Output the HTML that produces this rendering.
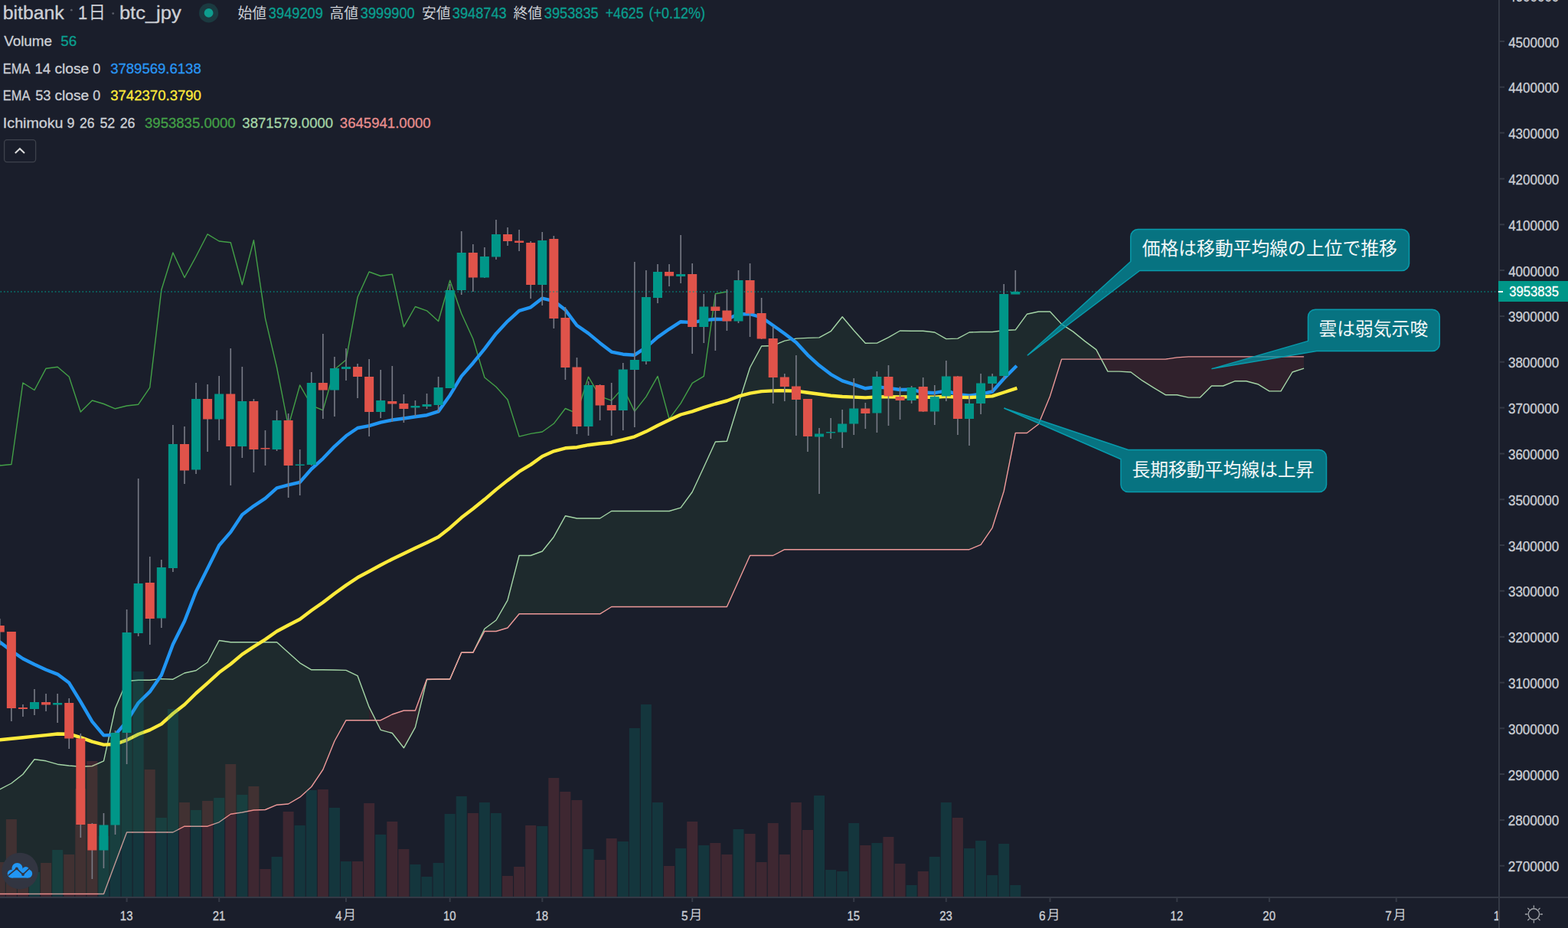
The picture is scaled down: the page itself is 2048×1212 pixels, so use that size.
<!DOCTYPE html>
<html lang="ja">
<head>
<meta charset="utf-8">
<title>bitbank btc_jpy 1D chart</title>
<style>
html,body{margin:0;padding:0;background:#1a1e2b;}
#root{position:relative;width:2048px;height:1212px;overflow:hidden;background:#1a1e2b;font-family:"Liberation Sans",sans-serif;}
#root svg{position:absolute;left:0;top:0;}
.c{position:absolute;white-space:nowrap;line-height:1;color:transparent;font-family:"Liberation Sans",sans-serif;}
</style>
</head>
<body>
<div id="root">
<svg width="2048" height="1212" viewBox="0 0 2048 1212">
<defs><clipPath id="clipx"><rect x="0" y="1173" width="1957" height="39"/></clipPath></defs>
<path d="M-0.2 1030.8L14.9 1023.0L14.9 1167.5L-0.2 1167.5ZM14.9 1023.0L29.9 1011.2L29.9 1167.5L14.9 1167.5ZM29.9 1011.2L45.0 991.8L45.0 1167.5L29.9 1167.5ZM45.0 991.8L60.1 993.8L60.1 1167.5L45.0 1167.5ZM60.1 993.8L75.2 998.2L75.2 1167.5L60.1 1167.5ZM75.2 998.2L90.2 1000.0L90.2 1167.5L75.2 1167.5ZM90.2 1000.0L105.3 1001.2L105.3 1167.5L90.2 1167.5ZM105.3 1001.2L120.4 1000.5L120.4 1167.5L105.3 1167.5ZM120.4 1000.5L135.5 993.8L135.5 1167.5L120.4 1167.5ZM135.5 993.8L150.5 925.0L150.5 1127.2L135.5 1167.5ZM150.5 925.0L165.6 889.5L165.6 1087.0L150.5 1127.2ZM165.6 889.5L180.7 888.2L180.7 1087.0L165.6 1087.0ZM180.7 888.2L195.7 888.2L195.7 1087.0L180.7 1087.0ZM195.7 888.2L210.8 886.6L210.8 1087.0L195.7 1087.0ZM210.8 886.6L225.9 887.2L225.9 1087.0L210.8 1087.0ZM225.9 887.2L241.0 879.0L241.0 1079.2L225.9 1087.0ZM241.0 879.0L256.0 875.7L256.0 1079.2L241.0 1079.2ZM256.0 875.7L271.1 865.0L271.1 1079.2L256.0 1079.2ZM271.1 865.0L286.2 836.5L286.2 1073.8L271.1 1079.2ZM286.2 836.5L301.3 838.8L301.3 1063.2L286.2 1073.8ZM301.3 838.8L316.3 838.8L316.3 1061.0L301.3 1063.2ZM316.3 838.8L331.4 838.8L331.4 1058.0L316.3 1061.0ZM331.4 838.8L346.5 838.8L346.5 1057.5L331.4 1058.0ZM346.5 838.8L361.6 838.8L361.6 1051.2L346.5 1057.5ZM361.6 838.8L376.6 852.2L376.6 1050.0L361.6 1051.2ZM376.6 852.2L391.7 865.8L391.7 1041.2L376.6 1050.0ZM391.7 865.8L406.8 874.8L406.8 1027.5L391.7 1041.2ZM406.8 874.8L421.9 874.8L421.9 1005.0L406.8 1027.5ZM421.9 874.8L436.9 875.0L436.9 968.0L421.9 1005.0ZM436.9 875.0L452.0 875.4L452.0 940.7L436.9 968.0ZM452.0 875.4L467.1 882.7L467.1 940.7L452.0 940.7ZM467.1 882.7L482.1 923.4L482.1 940.7L467.1 940.7ZM557.5 887.6L572.6 887.0L572.6 887.0L557.5 887.0ZM617.8 852.3L632.9 821.2L632.9 824.5L617.8 852.3ZM632.9 821.2L648.0 810.0L648.0 824.5L632.9 824.5ZM648.0 810.0L663.0 783.8L663.0 820.0L648.0 824.5ZM663.0 783.8L678.1 725.5L678.1 801.8L663.0 820.0ZM678.1 725.5L693.2 725.5L693.2 801.8L678.1 801.8ZM693.2 725.5L708.3 720.0L708.3 801.8L693.2 801.8ZM708.3 720.0L723.3 701.2L723.3 801.8L708.3 801.8ZM723.3 701.2L738.4 673.8L738.4 801.8L723.3 801.8ZM738.4 673.8L753.5 677.0L753.5 801.8L738.4 801.8ZM753.5 677.0L768.5 677.0L768.5 801.8L753.5 801.8ZM768.5 677.0L783.6 677.0L783.6 801.8L768.5 801.8ZM783.6 677.0L798.7 667.5L798.7 792.5L783.6 801.8ZM798.7 667.5L813.8 667.5L813.8 792.5L798.7 792.5ZM813.8 667.5L828.8 667.5L828.8 792.5L813.8 792.5ZM828.8 667.5L843.9 667.5L843.9 792.5L828.8 792.5ZM843.9 667.5L859.0 667.5L859.0 792.5L843.9 792.5ZM859.0 667.5L874.1 667.5L874.1 792.5L859.0 792.5ZM874.1 667.5L889.1 663.2L889.1 792.5L874.1 792.5ZM889.1 663.2L904.2 642.5L904.2 792.5L889.1 792.5ZM904.2 642.5L919.3 610.0L919.3 792.5L904.2 792.5ZM919.3 610.0L934.4 577.0L934.4 792.5L919.3 792.5ZM934.4 577.0L949.4 576.2L949.4 792.5L934.4 792.5ZM949.4 576.2L964.5 527.5L964.5 759.0L949.4 792.5ZM964.5 527.5L979.6 480.0L979.6 725.5L964.5 759.0ZM979.6 480.0L994.7 452.0L994.7 725.5L979.6 725.5ZM994.7 452.0L1009.7 451.5L1009.7 725.5L994.7 725.5ZM1009.7 451.5L1024.8 445.1L1024.8 717.7L1009.7 725.5ZM1024.8 445.1L1039.9 442.1L1039.9 717.7L1024.8 717.7ZM1039.9 442.1L1054.9 441.4L1054.9 717.7L1039.9 717.7ZM1054.9 441.4L1070.0 440.9L1070.0 717.7L1054.9 717.7ZM1070.0 440.9L1085.1 432.7L1085.1 717.7L1070.0 717.7ZM1085.1 432.7L1100.2 413.7L1100.2 717.7L1085.1 717.7ZM1100.2 413.7L1115.2 431.5L1115.2 717.7L1100.2 717.7ZM1115.2 431.5L1130.3 448.3L1130.3 717.7L1115.2 717.7ZM1130.3 448.3L1145.4 448.1L1145.4 717.7L1130.3 717.7ZM1145.4 448.1L1160.5 440.6L1160.5 717.7L1145.4 717.7ZM1160.5 440.6L1175.5 432.0L1175.5 717.7L1160.5 717.7ZM1175.5 432.0L1190.6 432.2L1190.6 717.7L1175.5 717.7ZM1190.6 432.2L1205.7 432.2L1205.7 717.7L1190.6 717.7ZM1205.7 432.2L1220.8 434.0L1220.8 717.7L1205.7 717.7ZM1220.8 434.0L1235.8 442.6L1235.8 717.7L1220.8 717.7ZM1235.8 442.6L1250.9 442.1L1250.9 717.7L1235.8 717.7ZM1250.9 442.1L1266.0 434.0L1266.0 717.7L1250.9 717.7ZM1266.0 434.0L1281.1 433.5L1281.1 711.3L1266.0 717.7ZM1281.1 433.5L1296.1 433.5L1296.1 689.3L1281.1 711.3ZM1296.1 433.5L1311.2 431.5L1311.2 641.5L1296.1 689.3ZM1311.2 431.5L1326.3 430.8L1326.3 565.5L1311.2 641.5ZM1326.3 430.8L1341.3 410.3L1341.3 565.5L1326.3 565.5ZM1341.3 410.3L1356.4 407.0L1356.4 554.0L1341.3 565.5ZM1356.4 407.0L1371.5 407.0L1371.5 517.4L1356.4 554.0ZM1371.5 407.0L1386.6 423.4L1386.6 469.1L1371.5 517.4ZM1386.6 423.4L1401.6 433.1L1401.6 469.1L1386.6 469.1ZM1401.6 433.1L1416.7 445.4L1416.7 469.1L1401.6 469.1ZM1416.7 445.4L1431.8 456.6L1431.8 469.1L1416.7 469.1Z" fill="#43a047" fill-opacity="0.1" shape-rendering="crispEdges"/>
<path d="M482.1 923.4L497.2 953.3L497.2 940.7L482.1 940.7ZM497.2 953.3L512.3 957.5L512.3 933.0L497.2 940.7ZM512.3 957.5L527.4 976.8L527.4 928.0L512.3 933.0ZM527.4 976.8L542.4 949.8L542.4 928.0L527.4 928.0ZM542.4 949.8L557.5 887.6L557.5 887.0L542.4 928.0ZM1431.8 456.6L1446.9 485.1L1446.9 469.1L1431.8 469.1ZM1446.9 485.1L1461.9 485.1L1461.9 469.1L1446.9 469.1ZM1461.9 485.1L1477.0 486.0L1477.0 469.1L1461.9 469.1ZM1477.0 486.0L1492.1 497.2L1492.1 469.1L1477.0 469.1ZM1492.1 497.2L1507.2 506.6L1507.2 469.1L1492.1 469.1ZM1507.2 506.6L1522.2 515.7L1522.2 469.1L1507.2 469.1ZM1522.2 515.7L1537.3 515.7L1537.3 466.9L1522.2 469.1ZM1537.3 515.7L1552.4 519.1L1552.4 465.9L1537.3 466.9ZM1552.4 519.1L1567.5 519.1L1567.5 465.9L1552.4 465.9ZM1567.5 519.1L1582.5 504.0L1582.5 465.9L1567.5 465.9ZM1582.5 504.0L1597.6 504.0L1597.6 465.9L1582.5 465.9ZM1597.6 504.0L1612.7 497.8L1612.7 465.9L1597.6 465.9ZM1612.7 497.8L1627.7 497.8L1627.7 465.9L1612.7 465.9ZM1627.7 497.8L1642.8 501.7L1642.8 465.9L1627.7 465.9ZM1642.8 501.7L1657.9 510.9L1657.9 465.9L1642.8 465.9ZM1657.9 510.9L1673.0 510.9L1673.0 465.9L1657.9 465.9ZM1673.0 510.9L1688.0 486.0L1688.0 465.9L1673.0 465.9ZM1688.0 486.0L1703.1 481.2L1703.1 465.9L1688.0 465.9Z" fill="#f44336" fill-opacity="0.1" shape-rendering="crispEdges"/>
<polyline points="-0.2,1030.8 14.9,1023.0 29.9,1011.2 45.0,991.8 60.1,993.8 75.2,998.2 90.2,1000.0 105.3,1001.2 120.4,1000.5 135.5,993.8 150.5,925.0 165.6,889.5 180.7,888.2 195.7,888.2 210.8,886.6 225.9,887.2 241.0,879.0 256.0,875.7 271.1,865.0 286.2,836.5 301.3,838.8 316.3,838.8 331.4,838.8 346.5,838.8 361.6,838.8 376.6,852.2 391.7,865.8 406.8,874.8 421.9,874.8 436.9,875.0 452.0,875.4 467.1,882.7 482.1,923.4 497.2,953.3 512.3,957.5 527.4,976.8 542.4,949.8 557.5,887.6 572.6,887.0 587.7,887.0 602.7,852.3 617.8,852.3 632.9,821.2 648.0,810.0 663.0,783.8 678.1,725.5 693.2,725.5 708.3,720.0 723.3,701.2 738.4,673.8 753.5,677.0 768.5,677.0 783.6,677.0 798.7,667.5 813.8,667.5 828.8,667.5 843.9,667.5 859.0,667.5 874.1,667.5 889.1,663.2 904.2,642.5 919.3,610.0 934.4,577.0 949.4,576.2 964.5,527.5 979.6,480.0 994.7,452.0 1009.7,451.5 1024.8,445.1 1039.9,442.1 1054.9,441.4 1070.0,440.9 1085.1,432.7 1100.2,413.7 1115.2,431.5 1130.3,448.3 1145.4,448.1 1160.5,440.6 1175.5,432.0 1190.6,432.2 1205.7,432.2 1220.8,434.0 1235.8,442.6 1250.9,442.1 1266.0,434.0 1281.1,433.5 1296.1,433.5 1311.2,431.5 1326.3,430.8 1341.3,410.3 1356.4,407.0 1371.5,407.0 1386.6,423.4 1401.6,433.1 1416.7,445.4 1431.8,456.6 1446.9,485.1 1461.9,485.1 1477.0,486.0 1492.1,497.2 1507.2,506.6 1522.2,515.7 1537.3,515.7 1552.4,519.1 1567.5,519.1 1582.5,504.0 1597.6,504.0 1612.7,497.8 1627.7,497.8 1642.8,501.7 1657.9,510.9 1673.0,510.9 1688.0,486.0 1703.1,481.2" fill="none" stroke="#a5d6a7" stroke-width="1.4" stroke-linejoin="round"/>
<polyline points="-0.2,1167.5 14.9,1167.5 29.9,1167.5 45.0,1167.5 60.1,1167.5 75.2,1167.5 90.2,1167.5 105.3,1167.5 120.4,1167.5 135.5,1167.5 150.5,1127.2 165.6,1087.0 180.7,1087.0 195.7,1087.0 210.8,1087.0 225.9,1087.0 241.0,1079.2 256.0,1079.2 271.1,1079.2 286.2,1073.8 301.3,1063.2 316.3,1061.0 331.4,1058.0 346.5,1057.5 361.6,1051.2 376.6,1050.0 391.7,1041.2 406.8,1027.5 421.9,1005.0 436.9,968.0 452.0,940.7 467.1,940.7 482.1,940.7 497.2,940.7 512.3,933.0 527.4,928.0 542.4,928.0 557.5,887.0 572.6,887.0 587.7,887.0 602.7,852.3 617.8,852.3 632.9,824.5 648.0,824.5 663.0,820.0 678.1,801.8 693.2,801.8 708.3,801.8 723.3,801.8 738.4,801.8 753.5,801.8 768.5,801.8 783.6,801.8 798.7,792.5 813.8,792.5 828.8,792.5 843.9,792.5 859.0,792.5 874.1,792.5 889.1,792.5 904.2,792.5 919.3,792.5 934.4,792.5 949.4,792.5 964.5,759.0 979.6,725.5 994.7,725.5 1009.7,725.5 1024.8,717.7 1039.9,717.7 1054.9,717.7 1070.0,717.7 1085.1,717.7 1100.2,717.7 1115.2,717.7 1130.3,717.7 1145.4,717.7 1160.5,717.7 1175.5,717.7 1190.6,717.7 1205.7,717.7 1220.8,717.7 1235.8,717.7 1250.9,717.7 1266.0,717.7 1281.1,711.3 1296.1,689.3 1311.2,641.5 1326.3,565.5 1341.3,565.5 1356.4,554.0 1371.5,517.4 1386.6,469.1 1401.6,469.1 1416.7,469.1 1431.8,469.1 1446.9,469.1 1461.9,469.1 1477.0,469.1 1492.1,469.1 1507.2,469.1 1522.2,469.1 1537.3,466.9 1552.4,465.9 1567.5,465.9 1582.5,465.9 1597.6,465.9 1612.7,465.9 1627.7,465.9 1642.8,465.9 1657.9,465.9 1673.0,465.9 1688.0,465.9 1703.1,465.9" fill="none" stroke="#ef9a9a" stroke-width="1.4" stroke-linejoin="round"/>
<polyline points="-15.3,549.2 -0.2,608.0 14.9,606.5 29.9,500.0 45.0,509.5 60.1,481.2 75.2,479.2 90.2,492.0 105.3,538.0 120.4,523.0 135.5,527.5 150.5,533.8 165.6,530.0 180.7,528.2 195.7,506.2 210.8,378.8 225.9,330.0 241.0,362.5 256.0,335.0 271.1,305.8 286.2,315.0 301.3,316.8 316.3,371.8 331.4,313.8 346.5,415.8 361.6,480.0 376.6,556.8 391.7,503.0 406.8,529.5 421.9,535.8 436.9,482.5 452.0,470.0 467.1,388.0 482.1,355.0 497.2,360.5 512.3,358.2 527.4,426.8 542.4,400.5 557.5,405.8 572.6,419.5 587.7,366.2 602.7,409.5 617.8,442.5 632.9,493.0 648.0,505.2 663.0,522.0 678.1,570.1 693.2,566.4 708.3,564.0 723.3,553.3 738.4,533.5 753.5,539.9 768.5,492.1 783.6,517.6 798.7,523.1 813.8,506.2 828.8,537.4 843.9,518.1 859.0,491.4 874.1,547.1 889.1,526.8 904.2,500.3 919.3,491.4 934.4,383.8 949.4,381.0" fill="none" stroke="#43a047" stroke-width="1.4" stroke-linejoin="round"/>
<polyline points="-0.2,838.5 14.9,850.0 29.9,860.2 45.0,867.8 60.1,874.8 75.2,880.6 90.2,891.8 105.3,916.5 120.4,942.3 135.5,960.4 150.5,959.9 165.6,942.1 180.7,918.0 195.7,903.4 210.8,881.8 225.9,841.5 241.0,811.3 256.0,772.6 271.1,742.6 286.2,712.2 301.3,694.9 316.3,672.2 331.4,660.8 346.5,650.9 361.6,637.3 376.6,633.4 391.7,629.8 406.8,612.5 421.9,598.8 436.9,583.1 452.0,569.3 467.1,559.0 482.1,556.2 497.2,551.7 512.3,548.5 527.4,546.5 542.4,544.3 557.5,542.2 572.6,537.4 587.7,516.2 602.7,491.4 617.8,474.2 632.9,455.7 648.0,435.7 663.0,419.6 678.1,405.9 693.2,401.3 708.3,389.6 723.3,393.1 738.4,404.7 753.5,425.0 768.5,435.4 783.6,447.9 798.7,459.6 813.8,462.7 828.8,463.7 843.9,453.6 859.0,440.4 874.1,429.8 889.1,420.2 904.2,421.1 919.3,418.4 934.4,416.7 949.4,417.1 964.5,410.3 979.6,410.2 994.7,414.5 1009.7,425.0 1024.8,435.7 1039.9,447.2 1054.9,463.6 1070.0,477.3 1085.1,488.8 1100.2,497.4 1115.2,502.2 1130.3,507.3 1145.4,505.2 1160.5,506.9 1175.5,509.0 1190.6,508.7 1205.7,512.5 1220.8,513.2 1235.8,510.3 1250.9,515.2 1266.0,516.8 1281.1,514.6 1296.1,511.5 1311.2,494.5 1326.3,479.3" fill="none" stroke="#2196f3" stroke-width="4.4" stroke-linejoin="round" stroke-linecap="square"/>
<polyline points="-0.2,966.2 14.9,964.7 29.9,963.3 45.0,961.6 60.1,960.1 75.2,958.5 90.2,958.7 105.3,963.1 120.4,968.6 135.5,972.6 150.5,972.0 165.6,966.6 180.7,959.0 195.7,953.4 210.8,945.6 225.9,932.0 241.0,920.3 256.0,905.5 271.1,892.2 286.2,878.3 301.3,867.3 316.3,854.6 331.4,844.7 346.5,835.1 361.6,824.5 376.6,816.5 391.7,808.7 406.8,797.3 421.9,786.7 436.9,775.3 452.0,764.4 467.1,754.3 482.1,746.3 497.2,738.0 512.3,730.2 527.4,722.9 542.4,715.8 557.5,708.8 572.6,701.3 587.7,689.4 602.7,676.1 617.8,664.5 632.9,652.3 648.0,639.4 663.0,627.4 678.1,615.9 693.2,606.9 708.3,596.0 723.3,589.3 738.4,585.3 753.5,584.2 768.5,581.2 783.6,579.3 798.7,577.7 813.8,574.2 828.8,570.3 843.9,563.6 859.0,555.8 874.1,548.6 889.1,541.5 904.2,537.3 919.3,532.2 934.4,527.5 949.4,523.5 964.5,517.7 979.6,513.7 994.7,511.1 1009.7,510.4 1024.8,510.2 1039.9,510.6 1054.9,512.8 1070.0,514.8 1085.1,516.7 1100.2,518.0 1115.2,518.6 1130.3,519.4 1145.4,518.4 1160.5,518.3 1175.5,518.5 1190.6,518.1 1205.7,518.8 1220.8,518.7 1235.8,517.7 1250.9,518.8 1266.0,519.1 1281.1,518.4 1296.1,517.4 1311.2,512.5 1326.3,507.6" fill="none" stroke="#ffeb3b" stroke-width="4.4" stroke-linejoin="round" stroke-linecap="square"/>
<path d="M38.01 1139h14V1171h-14ZM68.16 1110h14V1171h-14ZM128.45 1092h14V1171h-14ZM143.53 965h14V1171h-14ZM158.60 957h14V1171h-14ZM173.67 877h14V1171h-14ZM203.82 1068h14V1171h-14ZM218.89 926h14V1171h-14ZM249.04 1058h14V1171h-14ZM279.19 1042h14V1171h-14ZM309.34 1038h14V1171h-14ZM354.56 1119h14V1171h-14ZM384.71 1078h14V1171h-14ZM399.78 1032h14V1171h-14ZM429.93 1055h14V1171h-14ZM445.00 1125h14V1171h-14ZM490.22 1090h14V1171h-14ZM535.44 1129h14V1171h-14ZM550.52 1145h14V1171h-14ZM565.59 1127h14V1171h-14ZM580.66 1063h14V1171h-14ZM595.74 1040h14V1171h-14ZM625.88 1048h14V1171h-14ZM640.96 1062h14V1171h-14ZM701.25 1079h14V1171h-14ZM761.55 1109h14V1171h-14ZM806.77 1099h14V1171h-14ZM821.84 951h14V1171h-14ZM836.92 920h14V1171h-14ZM851.99 1048h14V1171h-14ZM882.14 1108h14V1171h-14ZM912.29 1104h14V1171h-14ZM957.51 1083h14V1171h-14ZM1063.02 1039h14V1171h-14ZM1078.10 1136h14V1171h-14ZM1093.17 1138h14V1171h-14ZM1108.24 1075h14V1171h-14ZM1138.39 1101h14V1171h-14ZM1183.61 1156h14V1171h-14ZM1213.76 1119h14V1171h-14ZM1228.83 1048h14V1171h-14ZM1258.98 1108h14V1171h-14ZM1274.05 1098h14V1171h-14ZM1289.13 1143h14V1171h-14ZM1304.20 1102h14V1171h-14ZM1319.27 1156h14V1171h-14Z" fill="#009688" fill-opacity="0.2"/>
<path d="M-7.21 1126h14V1171h-14ZM7.86 1070h14V1171h-14ZM22.94 1146h14V1171h-14ZM53.08 1127h14V1171h-14ZM83.23 1116h14V1171h-14ZM98.31 1030h14V1171h-14ZM113.38 994h14V1171h-14ZM188.75 1005h14V1171h-14ZM233.97 1048h14V1171h-14ZM264.12 1046h14V1171h-14ZM294.26 998h14V1171h-14ZM324.41 1027h14V1171h-14ZM339.48 1135h14V1171h-14ZM369.63 1060h14V1171h-14ZM414.85 1031h14V1171h-14ZM460.07 1125h14V1171h-14ZM475.15 1049h14V1171h-14ZM505.30 1073h14V1171h-14ZM520.37 1109h14V1171h-14ZM610.81 1062h14V1171h-14ZM656.03 1144h14V1171h-14ZM671.11 1132h14V1171h-14ZM686.18 1078h14V1171h-14ZM716.33 1016h14V1171h-14ZM731.40 1034h14V1171h-14ZM746.47 1045h14V1171h-14ZM776.62 1123h14V1171h-14ZM791.70 1095h14V1171h-14ZM867.06 1131h14V1171h-14ZM897.21 1073h14V1171h-14ZM927.36 1101h14V1171h-14ZM942.43 1116h14V1171h-14ZM972.58 1089h14V1171h-14ZM987.65 1126h14V1171h-14ZM1002.73 1075h14V1171h-14ZM1017.80 1116h14V1171h-14ZM1032.87 1048h14V1171h-14ZM1047.95 1084h14V1171h-14ZM1123.32 1104h14V1171h-14ZM1153.46 1093h14V1171h-14ZM1168.54 1128h14V1171h-14ZM1198.69 1138h14V1171h-14ZM1243.91 1068h14V1171h-14Z" fill="#e0534a" fill-opacity="0.185"/>
<path d="M-1.01 808h1.6V843h-1.6ZM14.06 825h1.6V942h-1.6ZM29.14 920h1.6V936h-1.6ZM44.21 900h1.6V934h-1.6ZM59.28 906h1.6V929h-1.6ZM74.36 906h1.6V944h-1.6ZM89.43 912h1.6V978h-1.6ZM104.51 958h1.6V1094h-1.6ZM119.58 1075h1.6V1148h-1.6ZM134.65 1062h1.6V1134h-1.6ZM149.73 954h1.6V1090h-1.6ZM164.8 796h1.6V998h-1.6ZM179.87 625h1.6V831h-1.6ZM194.95 727h1.6V842h-1.6ZM210.02 731h1.6V820h-1.6ZM225.09 555h1.6V747h-1.6ZM240.17 557h1.6V632h-1.6ZM255.24 500h1.6V619h-1.6ZM270.32 502h1.6V590h-1.6ZM285.39 491h1.6V575h-1.6ZM300.46 455h1.6V634h-1.6ZM315.54 479h1.6V598h-1.6ZM330.61 521h1.6V617h-1.6ZM345.68 562h1.6V608h-1.6ZM360.76 536h1.6V589h-1.6ZM375.83 540h1.6V650h-1.6ZM390.91 587h1.6V647h-1.6ZM405.98 486h1.6V608h-1.6ZM421.05 436h1.6V547h-1.6ZM436.13 466h1.6V544h-1.6ZM451.2 455h1.6V497h-1.6ZM466.27 475h1.6V520h-1.6ZM481.35 469h1.6V570h-1.6ZM496.42 483h1.6V546h-1.6ZM511.5 478h1.6V551h-1.6ZM526.57 515h1.6V552h-1.6ZM541.64 523h1.6V544h-1.6ZM556.72 514h1.6V534h-1.6ZM571.79 492h1.6V538h-1.6ZM586.86 371h1.6V507h-1.6ZM601.94 302h1.6V385h-1.6ZM617.01 319h1.6V381h-1.6ZM632.08 323h1.6V363h-1.6ZM647.16 287h1.6V339h-1.6ZM662.23 297h1.6V321h-1.6ZM677.31 300h1.6V328h-1.6ZM692.38 315h1.6V390h-1.6ZM707.45 303h1.6V399h-1.6ZM722.53 308h1.6V429h-1.6ZM737.6 401h1.6V496h-1.6ZM752.67 467h1.6V567h-1.6ZM767.75 498h1.6V569h-1.6ZM782.82 502h1.6V549h-1.6ZM797.9 500h1.6V569h-1.6ZM812.97 474h1.6V562h-1.6ZM828.04 342h1.6V558h-1.6ZM843.12 353h1.6V476h-1.6ZM858.19 345h1.6V396h-1.6ZM873.26 345h1.6V374h-1.6ZM888.34 307h1.6V370h-1.6ZM903.41 344h1.6V462h-1.6ZM918.49 384h1.6V448h-1.6ZM933.56 385h1.6V458h-1.6ZM948.63 378h1.6V432h-1.6ZM963.71 353h1.6V422h-1.6ZM978.78 344h1.6V440h-1.6ZM993.85 389h1.6V443h-1.6ZM1008.93 426h1.6V527h-1.6ZM1024.0 488h1.6V524h-1.6ZM1039.07 464h1.6V569h-1.6ZM1054.15 521h1.6V590h-1.6ZM1069.22 559h1.6V645h-1.6ZM1084.3 546h1.6V573h-1.6ZM1099.37 535h1.6V585h-1.6ZM1114.44 494h1.6V568h-1.6ZM1129.52 526h1.6V560h-1.6ZM1144.59 485h1.6V565h-1.6ZM1159.66 477h1.6V556h-1.6ZM1174.74 505h1.6V548h-1.6ZM1189.81 504h1.6V527h-1.6ZM1204.89 493h1.6V538h-1.6ZM1219.96 503h1.6V555h-1.6ZM1235.03 471h1.6V524h-1.6ZM1250.11 491h1.6V568h-1.6ZM1265.18 516h1.6V582h-1.6ZM1280.25 488h1.6V541h-1.6ZM1295.33 488h1.6V512h-1.6ZM1310.4 371h1.6V495h-1.6ZM1325.47 353h1.6V384h-1.6Z" fill="#787b86"/>
<path d="M39.01 917.0h12V926.0h-12ZM69.16 918.0h12V920.5h-12ZM129.45 1077.5h12V1110.5h-12ZM144.53 957.0h12V1077.5h-12ZM159.6 826.0h12V957.0h-12ZM174.67 762.0h12V827.0h-12ZM204.82 741.0h12V807.5h-12ZM219.89 580.0h12V742.0h-12ZM250.04 521.0h12V613.5h-12ZM280.19 514.5h12V547.5h-12ZM310.34 524.0h12V583.0h-12ZM355.56 549.0h12V587.0h-12ZM385.71 606.5h12V608.0h-12ZM400.78 500.0h12V607.0h-12ZM430.93 481.0h12V509.5h-12ZM446.0 479.0h12V482.0h-12ZM491.22 523.0h12V538.0h-12ZM536.44 530.0h12V532.5h-12ZM551.52 528.0h12V531.0h-12ZM566.59 506.0h12V529.0h-12ZM581.66 379.0h12V507.0h-12ZM596.74 330.0h12V379.0h-12ZM626.88 335.0h12V362.5h-12ZM641.96 306.0h12V335.5h-12ZM702.25 314.0h12V372.0h-12ZM762.55 503.0h12V557.0h-12ZM807.77 482.5h12V536.0h-12ZM822.84 470.0h12V483.0h-12ZM837.92 388.0h12V472.0h-12ZM852.99 355.0h12V389.0h-12ZM883.14 358.0h12V361.0h-12ZM913.29 400.5h12V427.0h-12ZM958.51 366.0h12V419.5h-12ZM1064.02 566.5h12V570.5h-12ZM1079.1 564.0h12V565.4h-12ZM1094.17 553.5h12V564.5h-12ZM1109.24 533.5h12V553.5h-12ZM1139.39 492.0h12V539.5h-12ZM1184.61 506.0h12V523.0h-12ZM1214.76 518.0h12V537.5h-12ZM1229.83 491.5h12V517.5h-12ZM1259.98 527.0h12V547.0h-12ZM1275.05 500.5h12V527.0h-12ZM1290.13 491.5h12V501.0h-12ZM1305.2 384.0h12V491.0h-12ZM1320.27 381.0h12V384.5h-12Z" fill="#009688"/>
<path d="M-6.21 817.0h12V825.5h-12ZM8.86 825.0h12V925.0h-12ZM23.94 924.0h12V926.0h-12ZM54.08 917.0h12V920.5h-12ZM84.23 918.0h12V964.5h-12ZM99.31 964.5h12V1077.0h-12ZM114.38 1076.0h12V1110.5h-12ZM189.75 761.0h12V808.0h-12ZM234.97 580.0h12V614.5h-12ZM265.12 521.0h12V547.5h-12ZM295.26 514.5h12V583.0h-12ZM325.41 524.0h12V587.0h-12ZM340.48 585.0h12V586.5h-12ZM370.63 549.0h12V608.0h-12ZM415.85 500.0h12V509.5h-12ZM461.07 479.0h12V492.0h-12ZM476.15 492.0h12V538.0h-12ZM506.3 524.0h12V527.5h-12ZM521.37 527.0h12V534.0h-12ZM611.81 330.0h12V362.5h-12ZM657.03 306.0h12V315.0h-12ZM672.11 314.5h12V317.0h-12ZM687.18 317.0h12V372.0h-12ZM717.33 312.0h12V416.0h-12ZM732.4 415.0h12V480.0h-12ZM747.47 479.5h12V557.0h-12ZM777.62 503.0h12V529.5h-12ZM792.7 529.0h12V536.0h-12ZM868.06 355.0h12V360.5h-12ZM898.21 358.0h12V427.0h-12ZM928.36 400.5h12V406.0h-12ZM943.43 405.5h12V419.5h-12ZM973.58 366.0h12V409.5h-12ZM988.65 409.0h12V442.5h-12ZM1003.73 442.0h12V493.0h-12ZM1018.8 492.5h12V505.0h-12ZM1033.87 504.5h12V522.0h-12ZM1048.95 521.0h12V570.0h-12ZM1124.32 533.5h12V540.0h-12ZM1154.46 492.0h12V517.5h-12ZM1169.54 518.0h12V523.0h-12ZM1199.69 505.0h12V537.5h-12ZM1244.91 491.5h12V547.0h-12Z" fill="#e0534a"/>
<line x1="0.5" y1="381" x2="1957" y2="381" stroke="#009688" stroke-width="1.6" stroke-dasharray="1.6 2.855" opacity="0.8"/>
<rect x="1957" y="0" width="2" height="1212" fill="#343945"/>
<rect x="0" y="1171" width="2048" height="2" fill="#343945"/>
<path d="M1959 1129.8h6v2h-6ZM1959 1069.9h6v2h-6ZM1959 1010.1h6v2h-6ZM1959 950.3h6v2h-6ZM1959 890.5h6v2h-6ZM1959 830.7h6v2h-6ZM1959 770.8h6v2h-6ZM1959 711.0h6v2h-6ZM1959 651.2h6v2h-6ZM1959 591.4h6v2h-6ZM1959 531.6h6v2h-6ZM1959 471.7h6v2h-6ZM1959 411.9h6v2h-6ZM1959 352.1h6v2h-6ZM1959 292.3h6v2h-6ZM1959 232.5h6v2h-6ZM1959 172.6h6v2h-6ZM1959 112.8h6v2h-6ZM1959 53.0h6v2h-6ZM1959 -6.8h6v2h-6ZM164.6 1173h2v5h-2ZM285.2 1173h2v5h-2ZM451.0 1173h2v5h-2ZM586.7 1173h2v5h-2ZM707.3 1173h2v5h-2ZM903.2 1173h2v5h-2ZM1114.2 1173h2v5h-2ZM1234.8 1173h2v5h-2ZM1370.5 1173h2v5h-2ZM1536.3 1173h2v5h-2ZM1656.9 1173h2v5h-2ZM1822.7 1173h2v5h-2Z" fill="#343945"/>
<rect x="1957" y="367" width="91" height="27" fill="#009688"/>
<rect x="1957" y="380" width="6" height="2" fill="#fff"/>
<path d="M1486.3 299.6H1831.0A9.5 9.5 0 0 1 1840.5 309.1V344.0A9.5 9.5 0 0 1 1831.0 353.5H1488.6L1342.3 463.8L1476.8 341.5V309.1A9.5 9.5 0 0 1 1486.3 299.6Z" fill="rgba(0,151,167,0.7)" stroke="#089bac" stroke-width="1.5" stroke-linejoin="round"/>
<path d="M1718.0 404.2H1870.8A9.5 9.5 0 0 1 1880.3 413.7V449.0A9.5 9.5 0 0 1 1870.8 458.5H1719.7L1583 481.6L1708.5 445.4V413.7A9.5 9.5 0 0 1 1718.0 404.2Z" fill="rgba(0,151,167,0.7)" stroke="#089bac" stroke-width="1.5" stroke-linejoin="round"/>
<path d="M1473.6 587.5H1723.0A9.5 9.5 0 0 1 1732.5 597.1V633.0A9.5 9.5 0 0 1 1723.0 642.5H1473.5A9.5 9.5 0 0 1 1464 633.0V599.8L1311.8 533.3Z" fill="rgba(0,151,167,0.7)" stroke="#089bac" stroke-width="1.5" stroke-linejoin="round"/>
<text x="1491.7" y="333.2" font-size="23.8" fill="#f2f7f8" font-family="Liberation Sans, Noto Sans CJK JP, sans-serif" textLength="333.2" lengthAdjust="spacingAndGlyphs">価格は移動平均線の上位で推移</text>
<text x="1722.4" y="437.5" font-size="23.8" fill="#f2f7f8" font-family="Liberation Sans, Noto Sans CJK JP, sans-serif" textLength="142.8" lengthAdjust="spacingAndGlyphs">雲は弱気示唆</text>
<text x="1478.4" y="621.8" font-size="23.8" fill="#f2f7f8" font-family="Liberation Sans, Noto Sans CJK JP, sans-serif" textLength="238" lengthAdjust="spacingAndGlyphs">長期移動平均線は上昇</text>
<circle cx="26.1" cy="1137.6" r="23.8" fill="#323541"/>
<g transform="translate(26.1 1137.6)"><g fill="#2196f3"><circle cx="-3.6" cy="-3.6" r="7.1"/><circle cx="-11" cy="3.5" r="5.4"/><circle cx="10.6" cy="3.4" r="5.5"/><circle cx="7.6" cy="-0.2" r="5.3"/><rect x="-11" y="-1" width="21.6" height="9.9"/></g><path d="M-15.4 5.8L-4.3-3.3L3.900 4.400L13.800-5" fill="none" stroke="#323541" stroke-width="1.7"/><circle cx="-4.300" cy="-3.300" r="1.900" fill="#323541"/><circle cx="3.900" cy="4.400" r="1.900" fill="#323541"/></g>
<circle cx="93.3" cy="13.2" r="1.4" fill="#5a5d68"/><circle cx="147.7" cy="17.6" r="1.4" fill="#5a5d68"/>
<circle cx="272.6" cy="16.9" r="12.6" fill="#1b3a40"/><circle cx="272.6" cy="16.900" r="5.900" fill="#0e9d8e"/>
<rect x="5.6" y="182.6" width="41" height="29" rx="3.500" fill="none" stroke="#3e424c" stroke-width="1.3"/>
<path d="M19.800 200L25.900 194.200L32 200" fill="none" stroke="#dcdcdc" stroke-width="2"/>
<circle cx="2003.4" cy="1194" r="7.2" fill="none" stroke="#a0a3a8" stroke-width="1.4"/><path d="M2011.6 1194.0L2014.9 1194.0M2009.2 1199.8L2011.5 1202.1M2003.4 1202.2L2003.4 1205.5M1997.6 1199.8L1995.3 1202.1M1995.2 1194.0L1991.9 1194.0M1997.6 1188.2L1995.3 1185.9M2003.4 1185.8L2003.4 1182.5M2009.2 1188.2L2011.5 1185.9" stroke="#a0a3a8" stroke-width="1.3" fill="none"/>
<g font-family="Liberation Sans, Noto Sans CJK JP, sans-serif" fill="#cdd0d6">
<text x="115.6" y="24.2" font-size="22.5">日</text>
<text x="310.6" y="23.6" font-size="18.8">始値</text>
<text x="430.6" y="23.6" font-size="18.8">高値</text>
<text x="551.1" y="23.6" font-size="18.8">安値</text>
<text x="670.6" y="23.6" font-size="18.8">終値</text>
<text x="448.1" y="1201.4" font-size="17">月</text>
<text x="900.31" y="1201.4" font-size="17">月</text>
<text x="1367.6" y="1201.4" font-size="17">月</text>
<text x="1819.81" y="1201.4" font-size="17">月</text>
</g>
<g font-family="Liberation Sans, sans-serif" stroke-width="0.3" style="white-space:pre">
<text x="3.65" y="24.60" font-size="23.5" fill="#cdd0d6" stroke="#cdd0d6" textLength="80.11" lengthAdjust="spacingAndGlyphs">bitbank</text>
<text x="101.98" y="24.60" font-size="23.5" fill="#cdd0d6" stroke="#cdd0d6" textLength="12.15" lengthAdjust="spacingAndGlyphs">1</text>
<text x="155.91" y="24.60" font-size="23.5" fill="#cdd0d6" stroke="#cdd0d6" textLength="80.81" lengthAdjust="spacingAndGlyphs">btc_jpy</text>
<text x="350.86" y="24.20" font-size="20.4" fill="#0a9e8f" stroke="#0a9e8f" textLength="70.97" lengthAdjust="spacingAndGlyphs">3949209</text>
<text x="470.86" y="24.20" font-size="20.4" fill="#0a9e8f" stroke="#0a9e8f" textLength="70.82" lengthAdjust="spacingAndGlyphs">3999900</text>
<text x="590.86" y="24.20" font-size="20.4" fill="#0a9e8f" stroke="#0a9e8f" textLength="70.90" lengthAdjust="spacingAndGlyphs">3948743</text>
<text x="710.86" y="24.20" font-size="20.4" fill="#0a9e8f" stroke="#0a9e8f" textLength="70.90" lengthAdjust="spacingAndGlyphs">3953835</text>
<text x="790.66" y="24.20" font-size="20.4" fill="#0a9e8f" stroke="#0a9e8f" textLength="50.03" lengthAdjust="spacingAndGlyphs">+4625</text>
<text x="847.44" y="24.20" font-size="20.4" fill="#0a9e8f" stroke="#0a9e8f" textLength="73.60" lengthAdjust="spacingAndGlyphs">(+0.12%)</text>
<text x="5.13" y="60.20" font-size="19.2" fill="#cdd0d6" stroke="#cdd0d6" textLength="62.98" lengthAdjust="spacingAndGlyphs">Volume</text>
<text x="79.26" y="60.20" font-size="19.2" fill="#0a9e8f" stroke="#0a9e8f" textLength="21.03" lengthAdjust="spacingAndGlyphs">56</text>
<text x="3.86" y="95.60" font-size="19.2" fill="#cdd0d6" stroke="#cdd0d6" textLength="35.53" lengthAdjust="spacingAndGlyphs">EMA</text>
<text x="45.52" y="95.60" font-size="19.2" fill="#cdd0d6" stroke="#cdd0d6" textLength="20.64" lengthAdjust="spacingAndGlyphs">14</text>
<text x="71.45" y="95.60" font-size="19.2" fill="#cdd0d6" stroke="#cdd0d6" textLength="44.72" lengthAdjust="spacingAndGlyphs">close</text>
<text x="121.20" y="95.60" font-size="19.2" fill="#cdd0d6" stroke="#cdd0d6" textLength="9.93" lengthAdjust="spacingAndGlyphs">0</text>
<text x="3.86" y="131.20" font-size="19.2" fill="#cdd0d6" stroke="#cdd0d6" textLength="35.53" lengthAdjust="spacingAndGlyphs">EMA</text>
<text x="46.19" y="131.20" font-size="19.2" fill="#cdd0d6" stroke="#cdd0d6" textLength="20.17" lengthAdjust="spacingAndGlyphs">53</text>
<text x="71.45" y="131.20" font-size="19.2" fill="#cdd0d6" stroke="#cdd0d6" textLength="44.72" lengthAdjust="spacingAndGlyphs">close</text>
<text x="121.20" y="131.20" font-size="19.2" fill="#cdd0d6" stroke="#cdd0d6" textLength="9.93" lengthAdjust="spacingAndGlyphs">0</text>
<text x="144.15" y="95.60" font-size="19.2" fill="#2996f3" stroke="#2996f3" textLength="118.59" lengthAdjust="spacingAndGlyphs">3789569.6138</text>
<text x="144.15" y="131.20" font-size="19.2" fill="#ffeb3b" stroke="#ffeb3b" textLength="118.82" lengthAdjust="spacingAndGlyphs">3742370.3790</text>
<text x="3.83" y="167.10" font-size="19.2" fill="#cdd0d6" stroke="#cdd0d6" textLength="78.73" lengthAdjust="spacingAndGlyphs">Ichimoku</text>
<text x="87.46" y="167.10" font-size="19.2" fill="#cdd0d6" stroke="#cdd0d6" textLength="9.93" lengthAdjust="spacingAndGlyphs">9</text>
<text x="103.88" y="167.10" font-size="19.2" fill="#cdd0d6" stroke="#cdd0d6" textLength="19.56" lengthAdjust="spacingAndGlyphs">26</text>
<text x="130.40" y="167.10" font-size="19.2" fill="#cdd0d6" stroke="#cdd0d6" textLength="19.89" lengthAdjust="spacingAndGlyphs">52</text>
<text x="156.66" y="167.10" font-size="19.2" fill="#cdd0d6" stroke="#cdd0d6" textLength="19.89" lengthAdjust="spacingAndGlyphs">26</text>
<text x="189.05" y="167.10" font-size="19.2" fill="#43a047" stroke="#43a047" textLength="118.62" lengthAdjust="spacingAndGlyphs">3953835.0000</text>
<text x="316.35" y="167.10" font-size="19.2" fill="#a5d6a7" stroke="#a5d6a7" textLength="118.82" lengthAdjust="spacingAndGlyphs">3871579.0000</text>
<text x="443.85" y="167.10" font-size="19.2" fill="#e98e8e" stroke="#e98e8e" textLength="118.82" lengthAdjust="spacingAndGlyphs">3645941.0000</text>
<text x="1969.70" y="1138.26" font-size="18.4" fill="#cdd0d6" stroke="#cdd0d6" textLength="66.65" lengthAdjust="spacingAndGlyphs">2700000</text>
<text x="1969.70" y="1078.44" font-size="18.4" fill="#cdd0d6" stroke="#cdd0d6" textLength="66.65" lengthAdjust="spacingAndGlyphs">2800000</text>
<text x="1969.70" y="1018.62" font-size="18.4" fill="#cdd0d6" stroke="#cdd0d6" textLength="66.65" lengthAdjust="spacingAndGlyphs">2900000</text>
<text x="1969.90" y="958.80" font-size="18.4" fill="#cdd0d6" stroke="#cdd0d6" textLength="66.44" lengthAdjust="spacingAndGlyphs">3000000</text>
<text x="1969.90" y="898.98" font-size="18.4" fill="#cdd0d6" stroke="#cdd0d6" textLength="66.44" lengthAdjust="spacingAndGlyphs">3100000</text>
<text x="1969.90" y="839.16" font-size="18.4" fill="#cdd0d6" stroke="#cdd0d6" textLength="66.44" lengthAdjust="spacingAndGlyphs">3200000</text>
<text x="1969.90" y="779.34" font-size="18.4" fill="#cdd0d6" stroke="#cdd0d6" textLength="66.44" lengthAdjust="spacingAndGlyphs">3300000</text>
<text x="1969.90" y="719.52" font-size="18.4" fill="#cdd0d6" stroke="#cdd0d6" textLength="66.44" lengthAdjust="spacingAndGlyphs">3400000</text>
<text x="1969.90" y="659.70" font-size="18.4" fill="#cdd0d6" stroke="#cdd0d6" textLength="66.44" lengthAdjust="spacingAndGlyphs">3500000</text>
<text x="1969.90" y="599.88" font-size="18.4" fill="#cdd0d6" stroke="#cdd0d6" textLength="66.44" lengthAdjust="spacingAndGlyphs">3600000</text>
<text x="1969.90" y="540.06" font-size="18.4" fill="#cdd0d6" stroke="#cdd0d6" textLength="66.44" lengthAdjust="spacingAndGlyphs">3700000</text>
<text x="1969.90" y="480.24" font-size="18.4" fill="#cdd0d6" stroke="#cdd0d6" textLength="66.44" lengthAdjust="spacingAndGlyphs">3800000</text>
<text x="1969.90" y="420.42" font-size="18.4" fill="#cdd0d6" stroke="#cdd0d6" textLength="66.44" lengthAdjust="spacingAndGlyphs">3900000</text>
<text x="1970.17" y="360.60" font-size="18.4" fill="#cdd0d6" stroke="#cdd0d6" textLength="66.17" lengthAdjust="spacingAndGlyphs">4000000</text>
<text x="1970.17" y="300.78" font-size="18.4" fill="#cdd0d6" stroke="#cdd0d6" textLength="66.17" lengthAdjust="spacingAndGlyphs">4100000</text>
<text x="1970.17" y="240.96" font-size="18.4" fill="#cdd0d6" stroke="#cdd0d6" textLength="66.17" lengthAdjust="spacingAndGlyphs">4200000</text>
<text x="1970.17" y="181.14" font-size="18.4" fill="#cdd0d6" stroke="#cdd0d6" textLength="66.17" lengthAdjust="spacingAndGlyphs">4300000</text>
<text x="1970.17" y="121.32" font-size="18.4" fill="#cdd0d6" stroke="#cdd0d6" textLength="66.17" lengthAdjust="spacingAndGlyphs">4400000</text>
<text x="1970.17" y="61.50" font-size="18.4" fill="#cdd0d6" stroke="#cdd0d6" textLength="66.17" lengthAdjust="spacingAndGlyphs">4500000</text>
<text x="1970.17" y="1.68" font-size="18.4" fill="#cdd0d6" stroke="#cdd0d6" textLength="66.17" lengthAdjust="spacingAndGlyphs">4600000</text>
<text x="1971.22" y="386.80" font-size="18.4" fill="#ffffff" stroke="#ffffff" textLength="64.78" lengthAdjust="spacingAndGlyphs">3953835</text>
<text x="156.85" y="1202.00" font-size="16.5" fill="#cdd0d6" stroke="#cdd0d6" textLength="16.61" lengthAdjust="spacingAndGlyphs">13</text>
<text x="277.71" y="1202.00" font-size="16.5" fill="#cdd0d6" stroke="#cdd0d6" textLength="16.61" lengthAdjust="spacingAndGlyphs">21</text>
<text x="578.89" y="1202.00" font-size="16.5" fill="#cdd0d6" stroke="#cdd0d6" textLength="16.61" lengthAdjust="spacingAndGlyphs">10</text>
<text x="699.51" y="1202.00" font-size="16.5" fill="#cdd0d6" stroke="#cdd0d6" textLength="16.61" lengthAdjust="spacingAndGlyphs">18</text>
<text x="1106.50" y="1202.00" font-size="16.5" fill="#cdd0d6" stroke="#cdd0d6" textLength="16.61" lengthAdjust="spacingAndGlyphs">15</text>
<text x="1227.29" y="1202.00" font-size="16.5" fill="#cdd0d6" stroke="#cdd0d6" textLength="16.61" lengthAdjust="spacingAndGlyphs">23</text>
<text x="1528.62" y="1202.00" font-size="16.5" fill="#cdd0d6" stroke="#cdd0d6" textLength="16.61" lengthAdjust="spacingAndGlyphs">12</text>
<text x="1649.33" y="1202.00" font-size="16.5" fill="#cdd0d6" stroke="#cdd0d6" textLength="16.61" lengthAdjust="spacingAndGlyphs">20</text>
<text x="438.10" y="1202.00" font-size="16.5" fill="#cdd0d6" stroke="#cdd0d6" textLength="8.53" lengthAdjust="spacingAndGlyphs">4</text>
<text x="890.01" y="1202.00" font-size="16.5" fill="#cdd0d6" stroke="#cdd0d6" textLength="8.53" lengthAdjust="spacingAndGlyphs">5</text>
<text x="1357.12" y="1202.00" font-size="16.5" fill="#cdd0d6" stroke="#cdd0d6" textLength="8.53" lengthAdjust="spacingAndGlyphs">6</text>
<text x="1809.33" y="1202.00" font-size="16.5" fill="#cdd0d6" stroke="#cdd0d6" textLength="8.53" lengthAdjust="spacingAndGlyphs">7</text>
<text clip-path="url(#clipx)" x="1950.80" y="1202.00" font-size="16.5" fill="#cdd0d6" stroke="#cdd0d6" textLength="16.61" lengthAdjust="spacingAndGlyphs">10</text>
</g>
</svg>
<span class="c" style="left:1491.7px;top:312.3px;font-size:23.8px;letter-spacing:0.00px">価格は移動平均線の上位で推移</span>
<span class="c" style="left:1722.4px;top:416.6px;font-size:23.8px;letter-spacing:0.00px">雲は弱気示唆</span>
<span class="c" style="left:1478.4px;top:600.9px;font-size:23.8px;letter-spacing:0.00px">長期移動平均線は上昇</span>
<span class="c" style="left:115.6px;top:4.4px;font-size:22.5px;letter-spacing:0.00px">日</span>
<span class="c" style="left:310.6px;top:7.1px;font-size:18.8px;letter-spacing:0.00px">始値</span>
<span class="c" style="left:430.6px;top:7.1px;font-size:18.8px;letter-spacing:0.00px">高値</span>
<span class="c" style="left:551.1px;top:7.1px;font-size:18.8px;letter-spacing:0.00px">安値</span>
<span class="c" style="left:670.6px;top:7.1px;font-size:18.8px;letter-spacing:0.00px">終値</span>
<span class="c" style="left:448.1px;top:1186.4px;font-size:17.0px;letter-spacing:0.00px">月</span>
<span class="c" style="left:900.3px;top:1186.4px;font-size:17.0px;letter-spacing:0.00px">月</span>
<span class="c" style="left:1367.6px;top:1186.4px;font-size:17.0px;letter-spacing:0.00px">月</span>
<span class="c" style="left:1819.8px;top:1186.4px;font-size:17.0px;letter-spacing:0.00px">月</span>
</div>
</body>
</html>
